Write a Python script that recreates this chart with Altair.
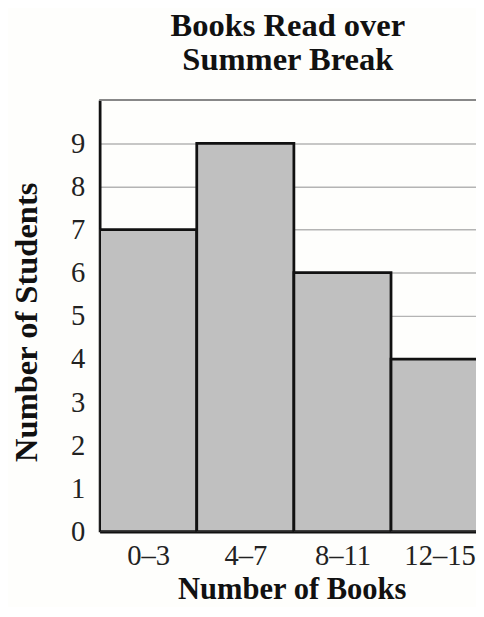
import altair as alt
import pandas as pd

# ---- data ----
categories = ["0–3", "4–7", "8–11", "12–15"]
bin_start = [0, 4, 8, 12]
bin_end = [4, 8, 12, 16]
students = [7, 9, 6, 4]
y_tick_values = [0, 1, 2, 3, 4, 5, 6, 7, 8, 9]
x_label_positions = [2, 6, 10, 14]

df = pd.DataFrame({
    "category": categories,
    "start": bin_start,
    "end": bin_end,
    "students": students,
})

# label expression mapping bin centres to the category labels
label_expr = "''"
for pos, cat in reversed(list(zip(x_label_positions, categories))):
    label_expr = f"datum.value == {pos} ? '{cat}' : ({label_expr})"

FONT = "Liberation Serif"

x_scale = alt.Scale(domain=[0, 15.5], nice=False, zero=False)
y_scale = alt.Scale(domain=[0, 10], nice=False)

bars = alt.Chart(df).mark_bar(
    color="#c0c0c0", stroke="#111111", strokeWidth=2.8, clip=True
).encode(
    x=alt.X("start:Q", scale=x_scale,
            axis=alt.Axis(values=x_label_positions, labelExpr=label_expr,
                          title="Number of Books", grid=False, ticks=False,
                          tickSize=0, domainColor="#111111", domainWidth=2.8,
                          labelFont=FONT, labelFontSize=29, labelColor="#222222",
                          labelBaseline="alphabetic", labelPadding=33,
                          labelFlush=False, labelOverlap=False,
                          titleFont=FONT, titleFontSize=31, titleFontWeight="bold",
                          titleColor="#111111", titleBaseline="alphabetic",
                          titleX=195, titleY=68, titleAnchor="middle")),
    x2="end:Q",
    y=alt.Y("students:Q", scale=y_scale,
            axis=alt.Axis(values=y_tick_values, title="Number of Students",
                          grid=True, gridColor="#b4b4b4", gridWidth=1.5,
                          ticks=False, tickSize=0, domainColor="#111111",
                          domainWidth=2.8, labelFont=FONT, labelFontSize=29,
                          labelColor="#222222", labelPadding=15,
                          titleFont=FONT, titleFontSize=33, titleFontWeight="bold",
                          titleColor="#111111", titleBaseline="alphabetic",
                          titleAngle=-90, titleX=-64, titleY=225,
                          titleAnchor="middle")),
    y2=alt.datum(0),
)

top_line = alt.Chart(df).mark_rule(color="#888888", strokeWidth=2).encode(
    y=alt.datum(10, scale=y_scale)
)

chart = alt.layer(top_line, bars).properties(
    width=382,
    height=438,
    title=alt.TitleParams(
        text=["Books Read over", "Summer Break"],
        font=FONT, fontSize=33, fontWeight="bold", color="#111111",
        anchor="middle", baseline="alphabetic", offset=-3, lineHeight=34,
    ),
    autosize=alt.AutoSizeParams(type="none"),
    padding={"left": 93, "top": 89, "right": 0, "bottom": 72},
    background="#fefefc",
).configure_view(stroke=None)

chart.save("out.html", embed_options={"renderer": "svg", "actions": False})
